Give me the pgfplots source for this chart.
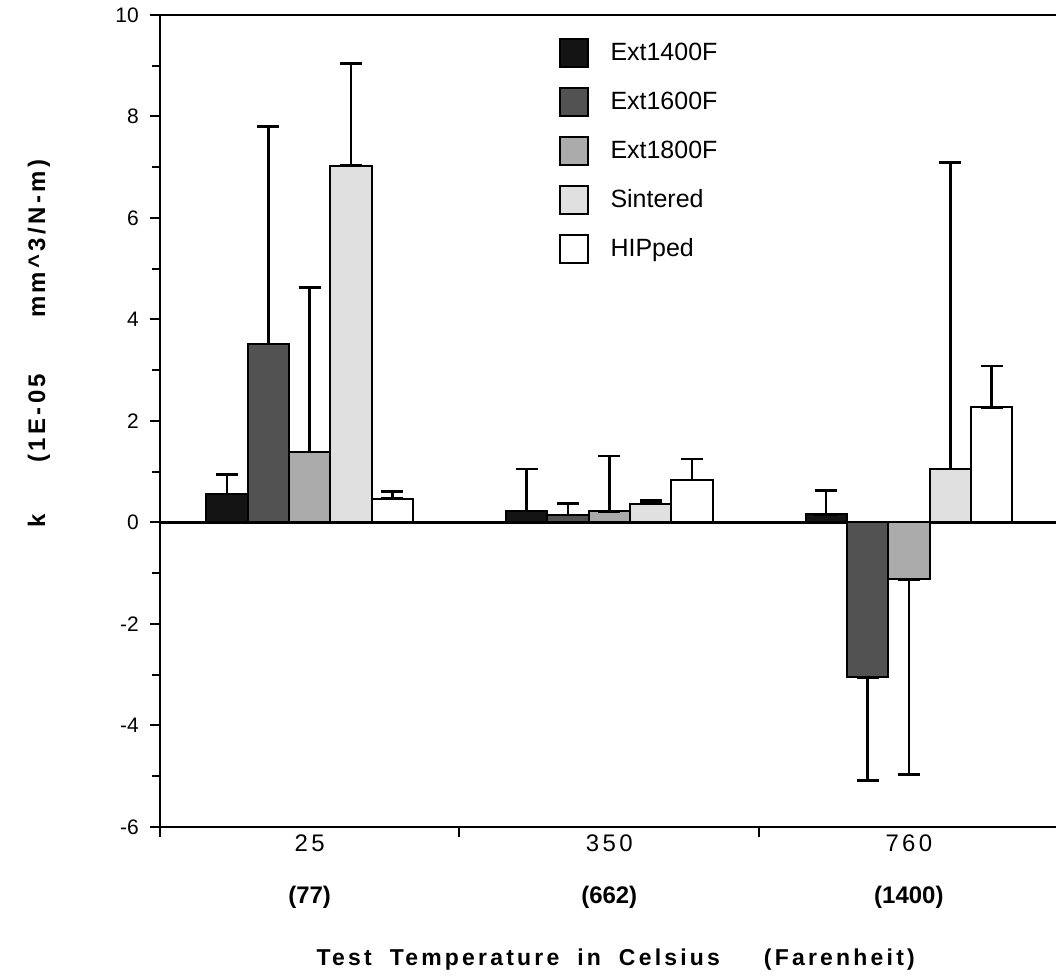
\documentclass[border=0pt]{standalone}
\usepackage{fontspec}
\setmainfont{Liberation Sans}
\newfontfamily\spaced[LetterSpace=14]{Liberation Sans}
\usepackage{pgfplots}
\usepackage{pgfplotstable}
\pgfplotsset{compat=1.18}

% value, error above, error below (1E-05 mm^3/N-m)
\pgfplotstableread{
x y ep em
0 0.56 0.39 0
1 0.23 0.82 0
2 0.16 0.47 0
}\extA
\pgfplotstableread{
x y ep em
0 3.52 4.28 0
1 0.15 0.22 0
2 -3.05 0 2.03
}\extB
\pgfplotstableread{
x y ep em
0 1.39 3.24 0
1 0.22 1.09 0
2 -1.12 0 3.85
}\extC
\pgfplotstableread{
x y ep em
0 7.03 2.01 0
1 0.37 0.06 0
2 1.05 6.04 0
}\sint
\pgfplotstableread{
x y ep em
0 0.47 0.14 0
1 0.84 0.41 0
2 2.27 0.81 0
}\hip

\pgfplotsset{
  kbar/.style={fill=#1, draw=black, line width=1pt,
    legend image code/.code={\draw[fill=#1, draw=black, line width=1pt] (0pt,-7pt) rectangle (14pt,7pt); \path (23pt,0pt);},
    error bars/.cd, y dir=both, y explicit,
    error bar style={line width=1.3pt, black},
    error mark options={rotate=90, mark size=5.5pt, line width=1.3pt, black}},
}

\begin{document}
\begin{tikzpicture}
\begin{axis}[scale only axis, width=448.5pt, height=406.5pt,
  xmin=-0.5, xmax=2.49, ymin=-6, ymax=10,
  axis x line*=box, axis y line*=left,
  axis line style={line width=1.2pt},
  ybar=0pt, bar width=20.7pt,
  ytick={-6,-4,...,10}, minor y tick num=1,
  tick align=outside, major tick length=5pt, minor tick length=4pt,
  tick style={line width=1pt, black},
  xtick={0,1,2}, xtick style={draw=none}, xtick pos=bottom, ytick pos=left,
  xticklabels={{\spaced 25\\[13pt]\textbf{(77)}},{\spaced 350\\[13pt]\textbf{(662)}},{\spaced 760\\[13pt]\textbf{(1400)}}},
  xticklabel style={align=center, font=\fontsize{12}{13}\selectfont, yshift=4.5pt},
  extra x ticks={-0.5,0.5,1.5}, extra x tick labels={},
  extra x tick style={xtick style={draw=black, line width=1pt}, major tick length=5pt},
  extra y ticks={0}, extra y tick labels={},
  extra y tick style={grid=major, grid style={black, line width=1.3pt}},
  yticklabel style={font=\fontsize{10.5}{12}\selectfont, xshift=-2pt},
  /pgf/number format/assume math mode=true,
  xlabel={\spaced\bfseries Test\hspace{9pt}Temperature\hspace{9pt}in\hspace{9pt}Celsius\hspace{22pt}(Farenheit)},
  xlabel style={font=\fontsize{11.5}{13}\selectfont, yshift=-3pt, xshift=4pt},
  ylabel={\spaced\bfseries k\hspace{26pt}(1E-05\hspace{28pt}mm\string^3/N-m)},
  ylabel style={font=\fontsize{12}{13}\selectfont, at={(axis description cs:-0.135,0.595)}, anchor=center},
  legend style={at={(axis description cs:0.438,0.977)}, anchor=north west, draw=none, fill=none,
    font=\fontsize{12.5}{14}\selectfont, row sep=9.5pt, cells={anchor=west}},
]
\addplot[kbar=black!92] table[x=x, y=y, y error plus=ep, y error minus=em] {\extA};
\addlegendentry{Ext1400F}
\addplot[kbar=black!68] table[x=x, y=y, y error plus=ep, y error minus=em] {\extB};
\addlegendentry{Ext1600F}
\addplot[kbar=black!33] table[x=x, y=y, y error plus=ep, y error minus=em] {\extC};
\addlegendentry{Ext1800F}
\addplot[kbar=black!12] table[x=x, y=y, y error plus=ep, y error minus=em] {\sint};
\addlegendentry{Sintered}
\addplot[kbar=white] table[x=x, y=y, y error plus=ep, y error minus=em] {\hip};
\addlegendentry{HIPped}
\end{axis}
\path (current axis.south west) ++(-80pt,-76.5pt);
\path (current axis.north east) ++(0pt,7.5pt);
\end{tikzpicture}
\end{document}
